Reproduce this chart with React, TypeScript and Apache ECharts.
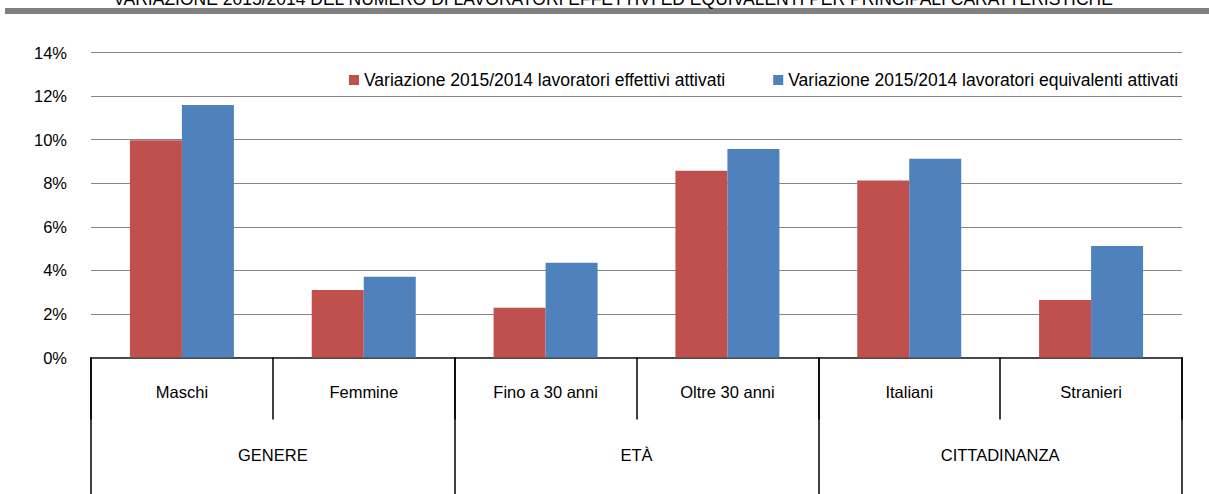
import React, { useEffect, useRef } from "react";
import * as echarts from "echarts";

const categories = ["Maschi", "Femmine", "Fino a 30 anni", "Oltre 30 anni", "Italiani", "Stranieri"];
const groups = ["GENERE", "ETÀ", "CITTADINANZA"];
const effettivi = [9.97, 3.1, 2.28, 8.57, 8.13, 2.64];
const equivalenti = [11.59, 3.71, 4.35, 9.57, 9.12, 5.12];
const seriesNames = [
  "Variazione 2015/2014 lavoratori effettivi attivati",
  "Variazione 2015/2014 lavoratori equivalenti attivati",
];
const titleText =
  "VARIAZIONE 2015/2014 DEL NUMERO DI LAVORATORI EFFETTIVI ED EQUIVALENTI PER PRINCIPALI CARATTERISTICHE";

const FONT = "'Liberation Sans', Arial, sans-serif";

export default function App() {
  const ref = useRef<HTMLDivElement>(null);
  useEffect(() => {
    if (!ref.current) return;
    const chart = echarts.init(ref.current, undefined, { renderer: "svg" });
    chart.setOption({
      animation: false,
      textStyle: { fontFamily: FONT },
      graphic: [
        {
          type: "rect",
          shape: { x: 5, y: 8, width: 1204, height: 6 },
          style: { fill: "#808080" },
        },
        {
          type: "text",
          x: 613,
          y: 8,
          style: {
            text: titleText,
            fontFamily: FONT,
            fontSize: 17.5,
            fill: "#000",
            align: "center",
            verticalAlign: "bottom",
          },
        },
      ],
      legend: {
        left: 344,
        top: 66,
        itemGap: 48,
        itemWidth: 10,
        itemHeight: 10,
        icon: "rect",
        textStyle: { fontSize: 17.5, color: "#000", fontFamily: FONT },
        data: seriesNames,
      },
      grid: { left: 91, right: 27, top: 52.5, bottom: 136.5, containLabel: false },
      xAxis: [
        {
          type: "category",
          data: categories,
          position: "bottom",
          axisLine: { show: true, lineStyle: { color: "#404040", width: 1.5 } },
          axisTick: { show: true, interval: 0, length: 62, lineStyle: { color: "#000", width: 1.5 } },
          axisLabel: { interval: 0, margin: 26, color: "#000", fontSize: 16.5, fontFamily: FONT },
        },
        {
          type: "category",
          data: groups,
          position: "bottom",
          axisLine: { show: true, lineStyle: { color: "#404040", width: 1.5 } },
          axisTick: { show: true, interval: 0, length: 140, lineStyle: { color: "#000", width: 1.5 } },
          axisLabel: { interval: 0, margin: 89, color: "#000", fontSize: 16.5, fontFamily: FONT },
        },
      ],
      yAxis: {
        type: "value",
        min: 0,
        max: 14,
        interval: 2,
        axisLine: { show: false },
        axisTick: { show: false },
        axisLabel: { formatter: "{value}%", margin: 24, color: "#000", fontSize: 16.5, fontFamily: FONT },
        splitLine: { lineStyle: { color: "#868686", width: 1.2 } },
      },
      series: [
        {
          name: seriesNames[0],
          type: "bar",
          data: effettivi,
          barWidth: 52,
          barGap: "0%",
          itemStyle: { color: "#C0504D" },
        },
        {
          name: seriesNames[1],
          type: "bar",
          data: equivalenti,
          barWidth: 52,
          barGap: "0%",
          itemStyle: { color: "#4F81BD" },
        },
      ],
    });
    return () => chart.dispose();
  }, []);
  return (
    <div
      ref={ref}
      style={{ position: "fixed", left: 0, top: 0, width: 1209, height: 494, background: "#fff" }}
    />
  );
}
